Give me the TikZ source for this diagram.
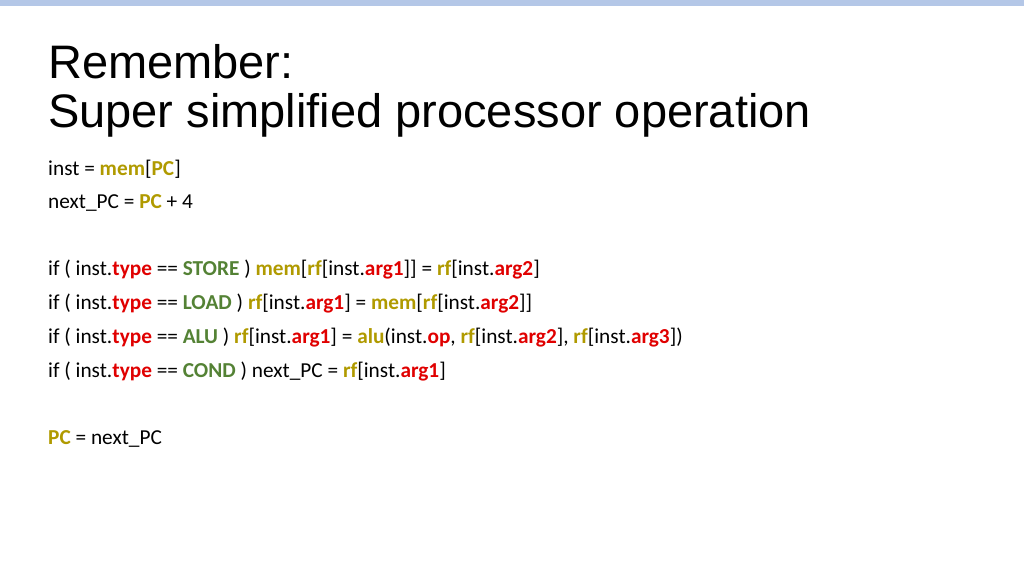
\documentclass[tikz,border=0pt]{standalone}
\usepackage{fontspec}
\setmainfont{Carlito}
\newfontfamily\titlefont{Liberation Sans}
\definecolor{olv}{HTML}{B09A00}
\definecolor{rd}{HTML}{E00000}
\definecolor{gr}{HTML}{548235}
\definecolor{barc}{HTML}{B4C7E7}
\newcommand{\ol}[1]{\textbf{\textcolor{olv}{#1}}}
\newcommand{\rdd}[1]{\textbf{\textcolor{rd}{#1}}}
\newcommand{\grr}[1]{\textbf{\textcolor{gr}{#1}}}
\begin{document}
\begin{tikzpicture}[x=1pt,y=1pt,
  ttl/.style={anchor=base west,inner sep=0pt,font=\titlefont\fontsize{47}{49}\selectfont},
  code/.style={anchor=base west,inner sep=0pt,font=\fontsize{21.3}{23}\selectfont}]
\useasboundingbox (0,0) rectangle (1024,-576);
\fill[barc] (0,0) rectangle (1024,-6);
\node[ttl] (t1) at (48,-78) {Remember:};
\node[ttl] (t2) at (48,-127) {Super simplified processor operation};
\node[code] (l1) at (48,-175) {inst = \ol{mem}[\ol{PC}]};
\node[code] (l2) at (48,-208) {next\_PC = \ol{PC} + 4};
\node[code] (l3) at (48,-275) {if ( inst.\rdd{type} == \grr{STORE} ) \ol{mem}[\ol{rf}[inst.\rdd{arg1}]] = \ol{rf}[inst.\rdd{arg2}]};
\node[code] (l4) at (48,-309) {if ( inst.\rdd{type} == \grr{LOAD} ) \ol{rf}[inst.\rdd{arg1}] = \ol{mem}[\ol{rf}[inst.\rdd{arg2}]]};
\node[code] (l5) at (48,-343) {if ( inst.\rdd{type} == \grr{ALU} ) \ol{rf}[inst.\rdd{arg1}] = \ol{alu}(inst.\rdd{op}, \ol{rf}[inst.\rdd{arg2}], \ol{rf}[inst.\rdd{arg3}])};
\node[code] (l6) at (48,-377) {if ( inst.\rdd{type} == \grr{COND} ) next\_PC = \ol{rf}[inst.\rdd{arg1}]};
\node[code] (l7) at (48,-444) {\ol{PC} = next\_PC};
\end{tikzpicture}
\end{document}
